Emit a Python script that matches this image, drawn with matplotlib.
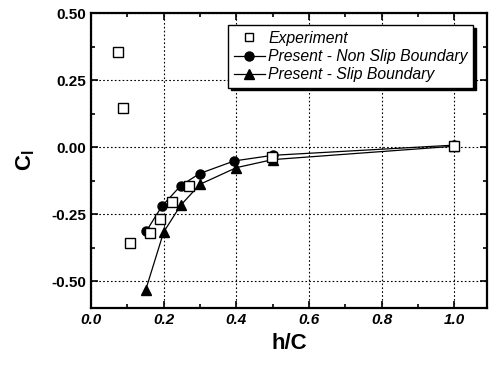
import matplotlib

matplotlib.use("Agg")
import matplotlib.pyplot as plt  # noqa: E402
from matplotlib.ticker import MultipleLocator  # noqa: E402

plt.rcParams["font.family"] = ["Liberation Sans", "DejaVu Sans"]

# experiment
exp_x = [0.075, 0.089, 0.108, 0.161, 0.19, 0.223, 0.271, 0.498, 1.0]
exp_y = [0.356, 0.148, -0.357, -0.32, -0.266, -0.204, -0.146, -0.036, 0.005]

# present - non slip boundary
ns_x = [0.152, 0.195, 0.247, 0.299, 0.394, 0.5, 1.0]
ns_y = [-0.313, -0.22, -0.143, -0.098, -0.051, -0.03, 0.008]

# present - slip boundary
sl_x = [0.15, 0.2, 0.247, 0.3, 0.4, 0.5, 1.0]
sl_y = [-0.534, -0.316, -0.216, -0.138, -0.076, -0.046, 0.004]

fig = plt.figure(figsize=(4.92, 3.66), dpi=100)
ax = fig.add_axes([0.185, 0.158, 0.805, 0.806])

ax.plot(ns_x, ns_y, "-", color="black", lw=0.9, marker="o", ms=6.5,
        label="Present - Non Slip Boundary", zorder=3)
ax.plot(sl_x, sl_y, "-", color="black", lw=0.9, marker="^", ms=7,
        label="Present - Slip Boundary", zorder=3)
ax.plot(exp_x, exp_y, "s", mfc="white", mec="black", mew=1.0, ms=7.5,
        label="Experiment", zorder=4)

ax.set_xlim(0, 1.09)
ax.set_ylim(-0.6, 0.5)
ax.xaxis.set_major_locator(MultipleLocator(0.2))
ax.xaxis.set_minor_locator(MultipleLocator(0.1))
ax.yaxis.set_major_locator(MultipleLocator(0.25))
ax.yaxis.set_minor_locator(MultipleLocator(0.125))
ax.grid(True, which="major", ls=(0, (1.5, 2)), color="black", lw=0.8)
ax.tick_params(which="both", direction="in", top=True, right=True, width=1.2)
ax.tick_params(which="major", length=5, labelsize=11)
ax.tick_params(which="minor", length=3)
for s in ax.spines.values():
    s.set_linewidth(1.6)

ax.set_xticklabels([f"{v:.1f}" for v in ax.get_xticks()], fontweight="bold",
                   fontstyle="italic")
ax.set_yticklabels([f"{v:.2f}" for v in ax.get_yticks()], fontweight="bold")
ax.set_xlim(0, 1.09)
ax.set_ylim(-0.6, 0.5)

ax.set_xlabel("h/C", fontsize=16, fontweight="bold")
ax.set_ylabel(r"C$_\mathregular{l}$", fontsize=16, fontweight="bold", labelpad=10)

h, l = ax.get_legend_handles_labels()
leg = ax.legend([h[2], h[0], h[1]], [l[2], l[0], l[1]], loc="upper right",
                bbox_to_anchor=(0.985, 0.985), prop={"style": "italic", "size": 11.3},
                frameon=True, fancybox=False,
                shadow={"color": "black", "alpha": 1.0, "ox": 2, "oy": -2},
                borderpad=0.35, labelspacing=0.2, handlelength=2.0,
                handletextpad=0.2, edgecolor="black", framealpha=1)
leg.get_frame().set_linewidth(1.0)
leg.legend_handles[0].set_markersize(5.5)

fig.savefig("out.png", dpi=100)
